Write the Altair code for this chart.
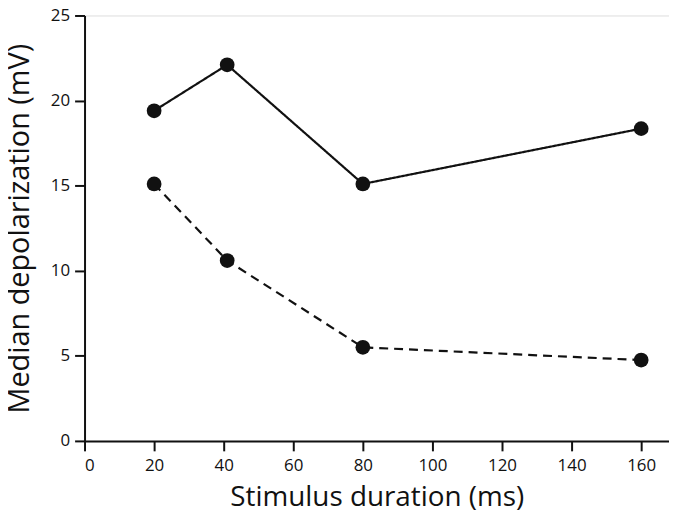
import altair as alt
import pandas as pd

duration = [20, 41, 80, 160]
solid_vals = [19.4, 22.1, 15.1, 18.35]
dashed_vals = [15.1, 10.6, 5.5, 4.75]
series_names = ["solid", "dashed"]

rows = []
for d, v in zip(duration, solid_vals):
    rows.append({"duration": d, "value": v, "series": "solid"})
for d, v in zip(duration, dashed_vals):
    rows.append({"duration": d, "value": v, "series": "dashed"})
df = pd.DataFrame(rows)

FONT = "Open Sans"
INK = "#111111"

x = alt.X("duration:Q",
          scale=alt.Scale(domain=[0, 168], nice=False, zero=True),
          axis=alt.Axis(title="Stimulus duration (ms)", values=[0, 20, 40, 60, 80, 100, 120, 140, 160],
                        grid=False, tickSize=10, tickWidth=2, domainWidth=2, domainColor=INK, tickColor=INK,
                        labelFont=FONT, labelFontSize=17, labelColor=INK, labelPadding=7,
                        titleFont=FONT, titleFontSize=28, titleFontWeight="normal", titleColor=INK,
                        titlePadding=10))
y = alt.Y("value:Q",
          scale=alt.Scale(domain=[0, 25], nice=False),
          axis=alt.Axis(title="Median depolarization (mV)", values=[0, 5, 10, 15, 20, 25],
                        grid=False, tickSize=10, tickWidth=2, domainWidth=2, domainColor=INK, tickColor=INK,
                        labelFont=FONT, labelFontSize=17, labelColor=INK, labelPadding=5,
                        titleFont=FONT, titleFontSize=29, titleFontWeight="normal", titleColor=INK,
                        titlePadding=16))

dash = alt.StrokeDash("series:N", scale=alt.Scale(domain=series_names, range=[[1, 0], [9, 6]]), legend=None)

lines = alt.Chart(df).mark_line(color=INK, strokeWidth=2.2).encode(x=x, y=y, strokeDash=dash, detail="series:N")
points = alt.Chart(df).mark_point(filled=True, color=INK, opacity=1, size=220, shape="circle").encode(x=x, y=y)

chart = alt.layer(lines, points).properties(
    width=588, height=428,
    autosize=alt.AutoSizeParams(type="none"),
    padding={"left": 77, "top": 6, "right": 0, "bottom": 69},
).configure_view(stroke=None).configure(background="white")

chart.save("out.html", embed_options={"renderer": "svg", "actions": False})
